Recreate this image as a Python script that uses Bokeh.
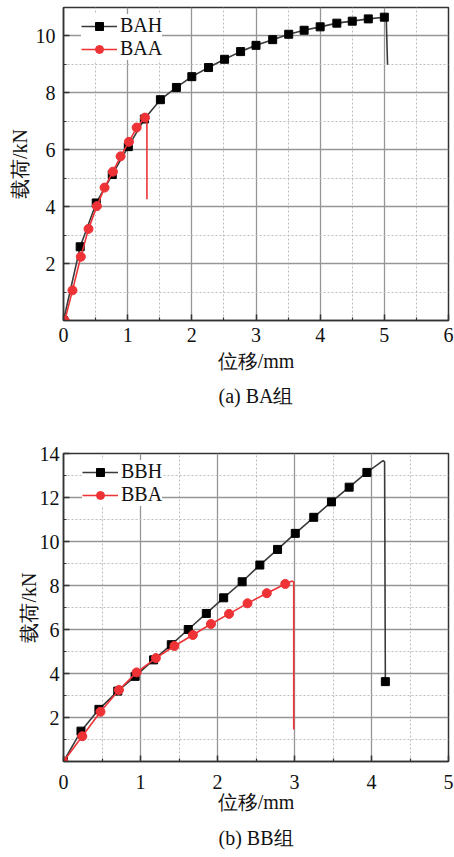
from bokeh.plotting import figure
from bokeh.models import FixedTicker, Title, Legend, LegendItem
from bokeh.layouts import column
from bokeh.embed import file_html
from bokeh.resources import INLINE

# ---------------- data ----------------
# (a) BA group
bah_x = [0, 0.26, 0.51, 0.76, 1.01, 1.26, 1.51, 1.76, 2.0, 2.26, 2.51, 2.76, 3.0,
         3.26, 3.51, 3.75, 4.0, 4.26, 4.5, 4.75, 5.0]
bah_y = [0, 2.59, 4.13, 5.13, 6.11, 7.08, 7.76, 8.19, 8.57, 8.89, 9.18, 9.45, 9.67,
         9.87, 10.06, 10.2, 10.32, 10.45, 10.52, 10.6, 10.66]
bah_tail_x = [5.03, 5.05]
bah_tail_y = [10.62, 8.99]

baa_x = [0.02, 0.14, 0.27, 0.39, 0.52, 0.64, 0.77, 0.89, 1.02, 1.14, 1.27]
baa_y = [0.0, 1.06, 2.24, 3.22, 4.02, 4.67, 5.23, 5.77, 6.28, 6.78, 7.13]
baa_tail_x = [1.30, 1.30]
baa_tail_y = [7.15, 4.26]

# (b) BB group
bbh_x = [0, 0.227, 0.46, 0.705, 0.93, 1.17, 1.40, 1.62, 1.855, 2.08, 2.32, 2.55,
         2.78, 3.01, 3.25, 3.48, 3.71, 3.94, 4.18]
bbh_y = [0, 1.38, 2.37, 3.2, 3.87, 4.62, 5.31, 6.0, 6.73, 7.44, 8.17, 8.93,
         9.64, 10.37, 11.1, 11.8, 12.47, 13.14, 3.63]
bbh_peak_x = [4.15, 4.17]
bbh_peak_y = [13.68, 13.62]

bba_x = [0, 0.244, 0.48, 0.72, 0.95, 1.20, 1.44, 1.68, 1.915, 2.15, 2.39, 2.64, 2.88]
bba_y = [0, 1.15, 2.26, 3.25, 4.05, 4.70, 5.25, 5.75, 6.25, 6.71, 7.19, 7.65, 8.07]
bba_tail_x = [2.97, 2.99, 2.99]
bba_tail_y = [8.20, 8.15, 1.46]

x_ticks_a = [0, 1, 2, 3, 4, 5, 6]
y_ticks_a = [2, 4, 6, 8, 10]
x_ticks_b = [0, 1, 2, 3, 4, 5]
y_ticks_b = [2, 4, 6, 8, 10, 12, 14]

x_label = "位移/mm"
y_label = "载荷/kN"
caption_a = "(a) BA组"
caption_b = "(b) BB组"

# ---------------- style ----------------
FONT = "Liberation Serif"
FS = "20px"
BLACK_LINE = "#3a3a3a"
RED = "#ee3236"
AX = "#333333"


def style(p, xt, yt, xmax, ymax):
    xtk = FixedTicker(ticks=xt, minor_ticks=[v + 0.5 for v in range(0, int(xmax))])
    ytk = FixedTicker(ticks=yt, minor_ticks=[v for v in range(1, int(ymax), 2)])
    p.xaxis.ticker = xtk
    p.yaxis.ticker = ytk
    p.xgrid.ticker = xtk
    p.ygrid.ticker = ytk
    for ax in (p.xaxis[0], p.yaxis[0]):
        ax.axis_line_color = AX
        ax.axis_line_width = 1.5
        ax.major_tick_in = 6
        ax.major_tick_out = 0
        ax.minor_tick_in = 3
        ax.minor_tick_out = 0
        ax.major_tick_line_color = AX
        ax.major_tick_line_width = 1.5
        ax.minor_tick_line_color = AX
        ax.minor_tick_line_width = 1.2
        ax.major_label_text_font = FONT
        ax.major_label_text_font_size = FS
        ax.major_label_text_font_style = "normal"
        ax.major_label_text_color = "#111111"
        ax.axis_label_text_font = FONT
        ax.axis_label_text_font_size = FS
        ax.axis_label_text_font_style = "normal"
        ax.axis_label_text_color = "#111111"
    p.xaxis.axis_label = x_label
    p.yaxis.axis_label = y_label
    for g in (p.xgrid[0], p.ygrid[0]):
        g.level = "underlay"
        g.grid_line_color = "#969696"
        g.grid_line_width = 1.3
        g.grid_line_alpha = 1.0
        g.minor_grid_line_color = "#bdbdbd"
        g.minor_grid_line_dash = "2 2"
        g.minor_grid_line_width = 1
        g.minor_grid_line_alpha = 1.0
    p.outline_line_color = AX
    p.outline_line_width = 1.5
    p.background_fill_color = "white"
    p.border_fill_color = "white"


def add_legend(p, items, loc):
    lg = Legend(items=items, location=loc)
    lg.margin = 0
    lg.padding = 4
    lg.spacing = -3
    lg.border_line_color = None
    lg.background_fill_color = "white"
    lg.background_fill_alpha = 1.0
    lg.glyph_width = 36
    lg.glyph_height = 20
    lg.label_standoff = 3
    lg.label_text_font = FONT
    lg.label_text_font_size = FS
    lg.label_text_color = "#111111"
    p.add_layout(lg)


# ---------------- (a) ----------------
p1 = figure(width=454, height=420, x_range=(0, 6), y_range=(0, 11),
            output_backend="svg", toolbar_location=None,
            min_border_left=63, min_border_right=0, min_border_top=7, min_border_bottom=100)
style(p1, x_ticks_a, y_ticks_a, 6, 11)
p1.xaxis.major_label_standoff = 7
p1.xaxis.axis_label_standoff = 5
p1.yaxis.major_label_standoff = 8
p1.yaxis.axis_label_standoff = 2

l1 = p1.line(bah_x + bah_tail_x, bah_y + bah_tail_y, line_color=BLACK_LINE, line_width=1.6)
m1 = p1.scatter(bah_x, bah_y, marker="square", size=8, fill_color="black", line_color="black")
l2 = p1.line(baa_x + baa_tail_x, baa_y + baa_tail_y, line_color=RED, line_width=1.6)
m2 = p1.scatter(baa_x, baa_y, marker="circle", size=9, fill_color=RED, line_color=RED)
add_legend(p1, [LegendItem(label="BAH", renderers=[l1, m1]),
                LegendItem(label="BAA", renderers=[l2, m2])], (18, 260))
t1 = Title(text=caption_a, align="center", text_font=FONT, text_font_size=FS,
           text_font_style="normal", text_color="#111111", standoff=17)
p1.add_layout(t1, "below")

# ---------------- (b) ----------------
p2 = figure(width=454, height=437, x_range=(0, 5), y_range=(0, 14),
            output_backend="svg", toolbar_location=None,
            min_border_left=58, min_border_right=6, min_border_top=33, min_border_bottom=90)
style(p2, x_ticks_b, y_ticks_b, 5, 14)
p2.xaxis.major_label_standoff = 13
p2.xaxis.axis_label_standoff = -1
p2.yaxis.major_label_standoff = 4
p2.yaxis.axis_label_standoff = -3

l3 = p2.line(bbh_x[:-1] + bbh_peak_x + bbh_x[-1:], bbh_y[:-1] + bbh_peak_y + bbh_y[-1:],
             line_color=BLACK_LINE, line_width=1.6)
m3 = p2.scatter(bbh_x, bbh_y, marker="square", size=8, fill_color="black", line_color="black")
l4 = p2.line(bba_x + bba_tail_x, bba_y + bba_tail_y, line_color=RED, line_width=1.6)
m4 = p2.scatter(bba_x, bba_y, marker="circle", size=9, fill_color=RED, line_color=RED)
add_legend(p2, [LegendItem(label="BBH", renderers=[l3, m3]),
                LegendItem(label="BBA", renderers=[l4, m4])], (19, 255))
t2 = Title(text=caption_b, align="center", text_font=FONT, text_font_size=FS,
           text_font_style="normal", text_color="#111111", standoff=18)
p2.add_layout(t2, "below")

layout = column(p1, p2, spacing=0)
open("out.html", "w").write(file_html(layout, INLINE))
